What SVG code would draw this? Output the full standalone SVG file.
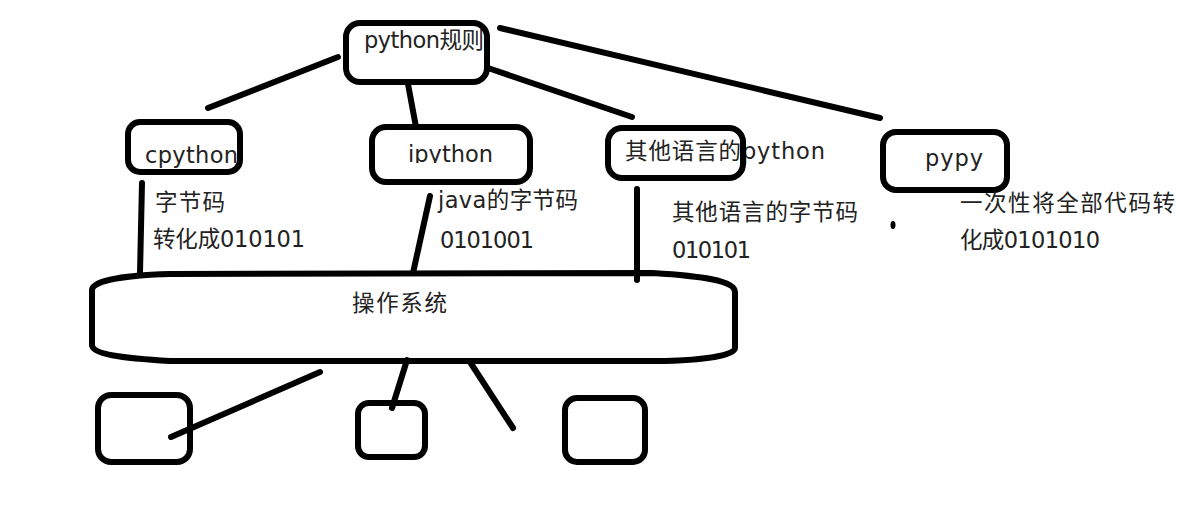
<svg xmlns="http://www.w3.org/2000/svg" width="1195" height="506" viewBox="0 0 1195 506">
<style>
.s{fill:none;stroke:#000;stroke-width:6;stroke-linecap:round;stroke-linejoin:round}
.t{font-family:"DejaVu Sans","Noto Sans CJK SC",sans-serif;font-size:22.5px;fill:#222}
</style>
<defs>
<clipPath id="clipI"><rect x="400" y="130" width="120" height="33"/></clipPath>
</defs>
<rect width="1195" height="506" fill="#fff"/>
<g id="connectors">
<line class="s" x1="208" y1="108" x2="338" y2="57"/>
<line class="s" x1="408" y1="84" x2="416" y2="127"/>
<line class="s" x1="488" y1="68" x2="632" y2="117"/>
<line class="s" x1="500" y1="28" x2="880" y2="118"/>
<line class="s" x1="142" y1="183" x2="140" y2="273"/>
<line class="s" x1="430" y1="196" x2="413" y2="273"/>
<line class="s" x1="637" y1="189" x2="637" y2="280"/>
<line class="s" x1="320" y1="372" x2="171" y2="437"/>
<line class="s" x1="407" y1="360" x2="392" y2="408"/>
<line class="s" x1="470" y1="362" x2="513" y2="428"/>
</g>
<g id="python-rules">
<text class="t" x="364" y="48" textLength="120">python规则</text>
<rect class="s" x="346" y="23" width="141" height="59" rx="14"/>
</g>
<g id="cpython">
<text class="t" x="145" y="163" textLength="93">cpython</text>
<rect class="s" x="128" y="122" width="112" height="50" rx="12"/>
</g>
<g id="ipython">
<text class="t" x="408" y="162" textLength="85" clip-path="url(#clipI)">ipython</text>
<rect class="s" x="372" y="127" width="158" height="55" rx="14"/>
</g>
<g id="other-python">
<text class="t" x="625" y="159" textLength="200">其他语言的python</text>
<rect class="s" x="608" y="128" width="135" height="50" rx="14"/>
</g>
<g id="pypy">
<text class="t" x="925" y="166" textLength="58">pypy</text>
<rect class="s" x="883" y="132" width="124" height="58" rx="13"/>
</g>
<g id="notes">
<text class="t" x="155" y="210" textLength="70">字节码</text>
<text class="t" x="153" y="247" textLength="152">转化成010101</text>
<text class="t" x="438" y="208" textLength="140">java的字节码</text>
<text class="t" x="440" y="248" textLength="94">0101001</text>
<text class="t" x="672" y="220" textLength="186">其他语言的字节码</text>
<text class="t" x="672" y="258" textLength="79">010101</text>
<text class="t" x="960" y="211" textLength="215">一次性将全部代码转</text>
<text class="t" x="960" y="248" textLength="140">化成0101010</text>
<ellipse cx="893" cy="225" rx="2.5" ry="4" fill="#000"/>
</g>
<g id="os">
<path class="s" d="M170 274 L653 273 C700 276 735 280 735 292 L735 348 C735 356 700 360 665 361 L170 361 C120 358 92 354 92 345 L92 290 C92 280 130 275 170 274 Z"/>
<text class="t" x="352" y="311" textLength="95">操作系统</text>
</g>
<g id="box1"><rect class="s" x="98" y="395" width="92" height="67" rx="13"/></g>
<g id="box2"><rect class="s" x="358" y="403" width="67" height="54" rx="11"/></g>
<g id="box3"><rect class="s" x="565" y="398" width="80" height="64" rx="12"/></g>
</svg>
